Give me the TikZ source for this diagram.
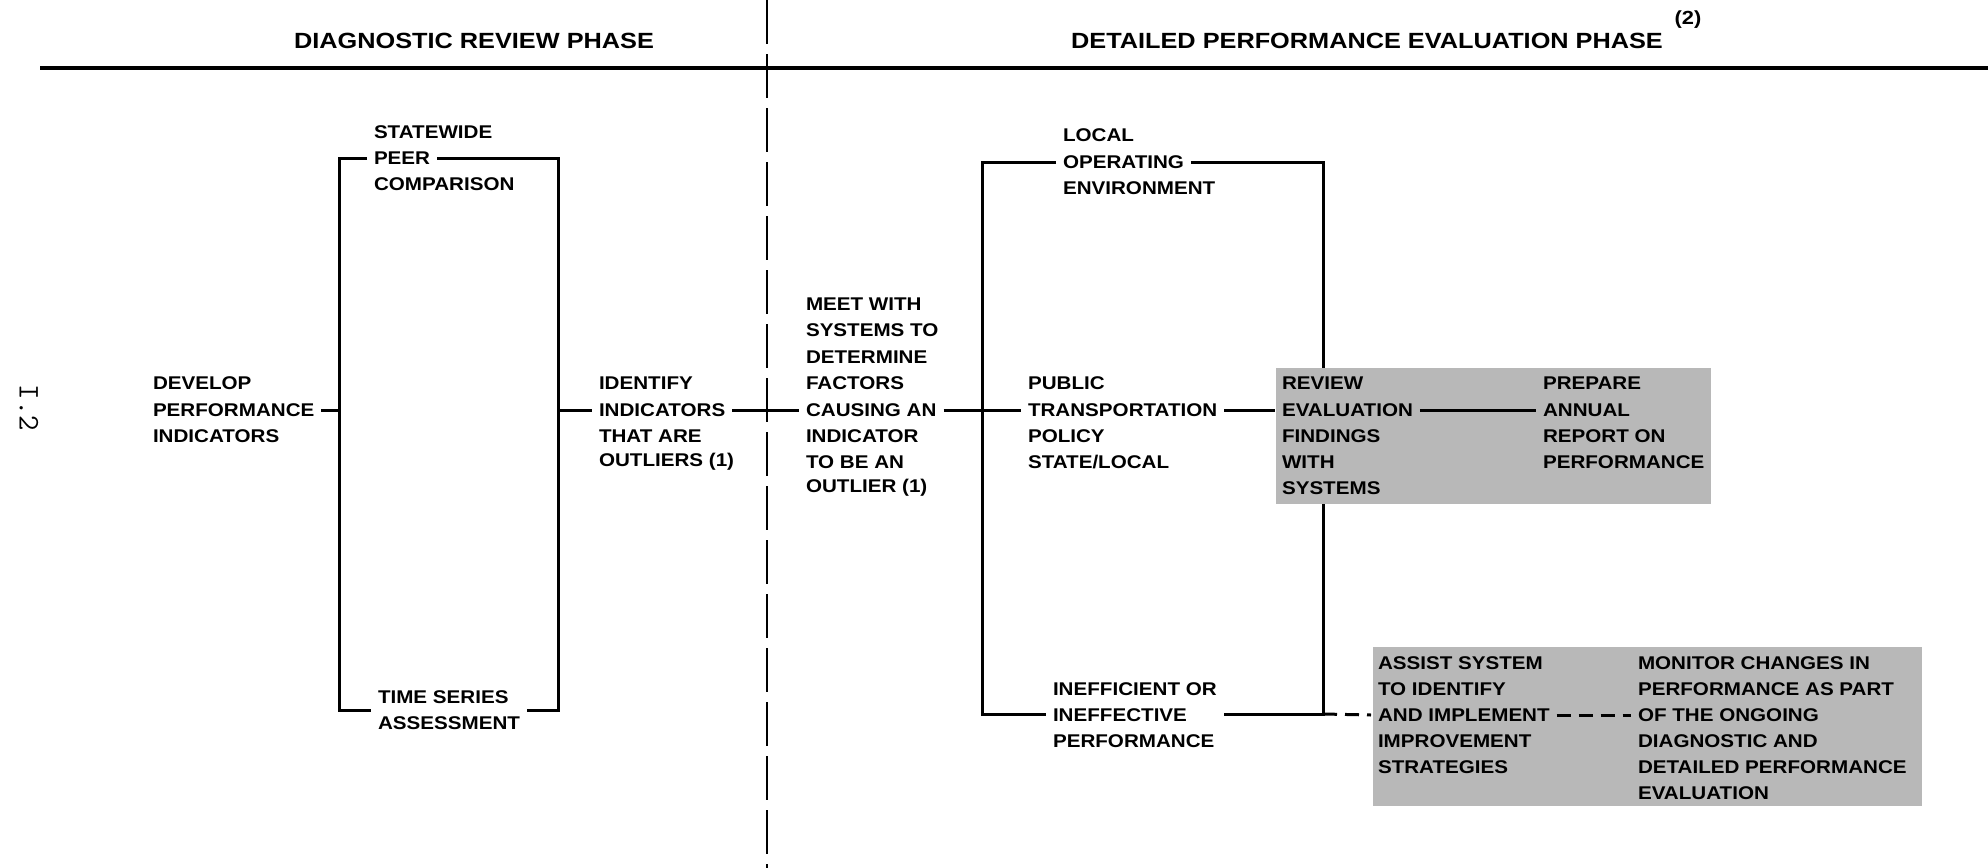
\documentclass[tikz,border=0pt]{standalone}
\usepackage{fontspec}
\setmainfont{Liberation Sans}
\newfontfamily\labfont[FakeStretch=1.12]{Liberation Sans}
\newfontfamily\ttlfont[FakeStretch=1.15]{Liberation Sans}
\pgfdeclarelayer{lines}
\pgfdeclarelayer{boxes}
\pgfsetlayers{lines,boxes,main}
\begin{document}
\begin{tikzpicture}[x=0.5pt,y=-0.5pt,
  txt/.style={font=\labfont\bfseries\fontsize{9.2}{11}\selectfont, inner xsep=0pt, inner ysep=0pt, outer xsep=3.5pt, anchor=west, xshift=-3.5pt},
  ttl/.style={font=\ttlfont\bfseries\fontsize{11}{13}\selectfont, inner sep=0pt},
  ln/.style={line width=1.5pt},
  dln/.style={line width=1.5pt, dash pattern=on 7pt off 4pt},
  sepline/.style={line width=1.4pt, dash pattern=on 22pt off 5pt},
  greyfill/.style={fill=black!28}]
\useasboundingbox (0,0) rectangle (1988,868);

% headings
\node[ttl] (t1) at (474,41) {DIAGNOSTIC REVIEW PHASE};
\node[ttl] (t2) at (1367,41) {DETAILED PERFORMANCE EVALUATION PHASE};
\node[font=\ttlfont\bfseries\fontsize{9.5}{11}\selectfont, inner sep=0pt] (t2n) at (1688,20) {(2)};
\node[font=\ttfamily\fontsize{15}{16}\selectfont, rotate=-90, inner sep=0pt] (pg) at (29,408) {I.2};

\coordinate (rl) at (40,68);
\coordinate (rr) at (1988,68);
\coordinate (st) at (767,0);
\coordinate (sb) at (767,868);

% text lines
\node[txt] (dv1) at (153,383) {DEVELOP};
\node[txt] (dv2) at (153,410) {PERFORMANCE};
\node[txt] (dv3) at (153,436) {INDICATORS};

\node[txt] (sw1) at (374,132) {STATEWIDE};
\node[txt] (sw2) at (374,158) {PEER};
\node[txt] (sw3) at (374,184) {COMPARISON};

\node[txt] (ts1) at (378,697) {TIME SERIES};
\node[txt] (ts2) at (378,723) {ASSESSMENT};

\node[txt] (id1) at (599,383) {IDENTIFY};
\node[txt] (id2) at (599,410) {INDICATORS};
\node[txt] (id3) at (599,436) {THAT ARE};
\node[txt] (id4) at (599,462) {OUTLIERS (1)};

\node[txt] (mt1) at (806,304) {MEET WITH};
\node[txt] (mt2) at (806,330) {SYSTEMS TO};
\node[txt] (mt3) at (806,357) {DETERMINE};
\node[txt] (mt4) at (806,383) {FACTORS};
\node[txt] (mt5) at (806,410) {CAUSING AN};
\node[txt] (mt6) at (806,436) {INDICATOR};
\node[txt] (mt7) at (806,462) {TO BE AN};
\node[txt] (mt8) at (806,488) {OUTLIER (1)};

\node[txt] (lc1) at (1063,135) {LOCAL};
\node[txt] (lc2) at (1063,162) {OPERATING};
\node[txt] (lc3) at (1063,188) {ENVIRONMENT};

\node[txt] (pb1) at (1028,383) {PUBLIC};
\node[txt] (pb2) at (1028,410) {TRANSPORTATION};
\node[txt] (pb3) at (1028,436) {POLICY};
\node[txt] (pb4) at (1028,462) {STATE/LOCAL};

\node[txt] (in1) at (1053,689) {INEFFICIENT OR};
\node[txt] (in2) at (1053,715) {INEFFECTIVE};
\node[txt] (in3) at (1053,741) {PERFORMANCE};

\node[txt] (rv1) at (1282,383) {REVIEW};
\node[txt] (rv2) at (1282,410) {EVALUATION};
\node[txt] (rv3) at (1282,436) {FINDINGS};
\node[txt] (rv4) at (1282,462) {WITH};
\node[txt] (rv5) at (1282,488) {SYSTEMS};

\node[txt] (pp1) at (1543,383) {PREPARE};
\node[txt] (pp2) at (1543,410) {ANNUAL};
\node[txt] (pp3) at (1543,436) {REPORT ON};
\node[txt] (pp4) at (1543,462) {PERFORMANCE};

\node[txt] (as1) at (1378,663) {ASSIST SYSTEM};
\node[txt] (as2) at (1378,689) {TO IDENTIFY};
\node[txt] (as3) at (1378,715) {AND IMPLEMENT};
\node[txt] (as4) at (1378,741) {IMPROVEMENT};
\node[txt] (as5) at (1378,767) {STRATEGIES};

\node[txt] (mn1) at (1638,663) {MONITOR CHANGES IN};
\node[txt] (mn2) at (1638,689) {PERFORMANCE AS PART};
\node[txt] (mn3) at (1638,715) {OF THE ONGOING};
\node[txt] (mn4) at (1638,741) {DIAGNOSTIC AND};
\node[txt] (mn5) at (1638,767) {DETAILED PERFORMANCE};
\node[txt] (mn6) at (1638,793) {EVALUATION};

% junctions
\coordinate (LTL) at (339,158);
\coordinate (LML) at (339,410);
\coordinate (LBL) at (339,710);
\coordinate (LTR) at (558,158);
\coordinate (LMR) at (558,410);
\coordinate (LBR) at (558,710);
\coordinate (RTL) at (982,162);
\coordinate (RBL) at (982,714);
\coordinate (RTR) at (1323,162);
\coordinate (RBR) at (1323,714);

\begin{pgfonlayer}{boxes}
  \fill[greyfill] (1276,368) rectangle (1711,504);
  \fill[greyfill] (1373,647) rectangle (1922,806);
\end{pgfonlayer}

\begin{pgfonlayer}{lines}
  \draw[line width=2pt] (rl) -- (rr);
  \draw[sepline] (st) -- (sb);
  % left bracket
  \draw[ln] (LTL -| sw2.west) -- (LTL) -- (LBL) -- (LBL -| ts1.west);
  \draw[ln] (sw2.east) -- (LTR) -- (LBR) -- (LBR -| ts2.east);
  \draw[ln] (dv2.east) -- (LML);
  \draw[ln] (LMR) -- (id2.west);
  \draw[ln] (id2.east) -- (mt5.west);
  \draw[ln] (mt5.east) -- (pb2.west);
  % right bracket
  \draw[ln] (RTL -| lc2.west) -- (RTL) -- (RBL) -- (RBL -| in2.west);
  \draw[ln] (lc2.east) -- (RTR) -- (RBR) -- (RBR -| in1.east);
  \draw[dln] (RBR) -- (as3.west);
\end{pgfonlayer}

\draw[ln] (pb2.east) -- (rv2.west);
\draw[ln] (rv2.east) -- (pp2.west);
\draw[dln] (as3.east) -- (mn3.west);
\end{tikzpicture}
\end{document}
